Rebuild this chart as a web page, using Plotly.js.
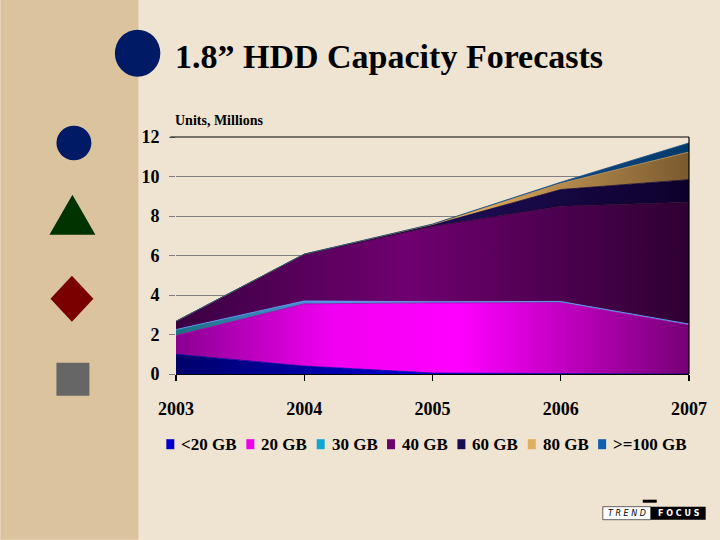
<!DOCTYPE html>
<html>
<head>
<meta charset="utf-8">
<script src="https://cdn.plot.ly/plotly-3.0.1.min.js"></script>
<style>
html,body{margin:0;padding:0;background:#EFE3D1;}
#chart{width:720px;height:540px;}
</style>
</head>
<body>
<div id="chart"></div>
<script>
// ---- data ----
const years = [2003, 2004, 2005, 2006, 2007];
const seriesNames = ['<20 GB', '20 GB', '30 GB', '40 GB', '60 GB', '80 GB', '>=100 GB'];
const lt20GB  = [1.00, 0.40, 0.05, 0.02, 0.00];
const gb20    = [0.95, 3.15, 3.55, 3.60, 2.50];
const gb30    = [0.30, 0.15, 0.06, 0.05, 0.03];
const gb40    = [0.40, 2.35, 3.82, 4.83, 6.16];
const gb60    = [0.02, 0.02, 0.06, 0.84, 1.15];
const gb80    = [0.00, 0.00, 0.04, 0.31, 1.40];
const gb100   = [0.00, 0.00, 0.01, 0.06, 0.46];
const yTicks  = [0, 2, 4, 6, 8, 10, 12];

const seriesValues = [lt20GB, gb20, gb30, gb40, gb60, gb80, gb100];

// ---- styles ----
const gradients = [
  [[0,'#00006a'],[0.45,'#0000d0'],[1,'#0000ff']],
  [[0,'#8a0090'],[0.3,'#f000f0'],[0.55,'#ff00ff'],[1,'#760076']],
  [[0,'#1a7080'],[0.3,'#4f95e6'],[1,'#6a8ce0']],
  [[0,'#3a0042'],[0.45,'#700070'],[1,'#2e0032']],
  [[0,'#24146a'],[0.6,'#1a0c4e'],[1,'#0e002c']],
  [[0,'#f0c888'],[0.6,'#d8a860'],[1,'#7a5a2e']],
  [[0,'#2a6aaa'],[0.6,'#1a5090'],[1,'#003a6a']]
];
const lineColors = ['#0000a0','#a000a0','#5aa0ff','#2a0030','#100030','#c09050','#104a80'];
const legendColors = ['#0000cc','#ee00ee','#10a8d0','#6a006a','#1a0c50','#e0b060','#1060b0'];

const W = 720, H = 540;
const mL = 175.7, mR = 30.7, mT = 137.3, mB = 165.7;
const pw = W - mL - mR, ph = H - mT - mB;
const px = x => (x - mL) / pw;
const py = y => (H - mB - y) / ph;

const traces = seriesValues.map((vals, i) => ({
  type: 'scatter',
  mode: 'lines',
  x: years,
  y: vals,
  name: seriesNames[i],
  stackgroup: 'one',
  line: {width: 0.8, color: lineColors[i], shape: 'linear'},
  fillgradient: {type: 'horizontal', start: 2003, stop: 2007, colorscale: gradients[i]},
  showlegend: false,
  hoverinfo: 'skip'
}));

const shapes = [];
const annotations = [];

// sidebar
shapes.push({type:'rect', xref:'paper', yref:'paper', x0:px(0), x1:px(138), y0:py(540), y1:py(0),
  fillcolor:'#DBC39D', line:{width:0}, layer:'below'});
// title bullet
shapes.push({type:'circle', xref:'paper', yref:'paper', x0:px(114.5), x1:px(160), y0:py(77), y1:py(30),
  fillcolor:'#001A66', line:{width:0}});
// sidebar symbols
shapes.push({type:'circle', xref:'paper', yref:'paper', x0:px(56), x1:px(91), y0:py(160.5), y1:py(126),
  fillcolor:'#001A66', line:{width:0}});
shapes.push({type:'path', xref:'paper', yref:'paper',
  path:`M ${px(49)} ${py(235)} L ${px(95)} ${py(235)} L ${px(72)} ${py(195)} Z`,
  fillcolor:'#003300', line:{width:0}});
shapes.push({type:'path', xref:'paper', yref:'paper',
  path:`M ${px(50)} ${py(299)} L ${px(71.5)} ${py(276)} L ${px(93)} ${py(299)} L ${px(71.5)} ${py(322)} Z`,
  fillcolor:'#7A0000', line:{width:0}});
shapes.push({type:'rect', xref:'paper', yref:'paper', x0:px(56), x1:px(89), y0:py(396), y1:py(363),
  fillcolor:'#666666', line:{width:0}});

// plot frame: top and right borders
shapes.push({type:'line', xref:'paper', yref:'paper', x0:px(170), x1:1, y0:1, y1:1, line:{color:'#000000', width:1.2}});
shapes.push({type:'line', xref:'paper', yref:'paper', x0:1, x1:1, y0:0, y1:1, line:{color:'#000000', width:1.2}});

// title
annotations.push({xref:'paper', yref:'paper', x:px(173), y:py(57), xanchor:'left', yanchor:'middle',
  text:'1.8\u201D HDD Capacity Forecasts', showarrow:false,
  font:{family:'Liberation Serif, Times New Roman, serif', size:34, color:'#000000', weight:'bold'}});
// units label
annotations.push({xref:'paper', yref:'paper', x:px(173), y:py(121), xanchor:'left', yanchor:'middle',
  text:'<b>Units, Millions</b>', showarrow:false,
  font:{family:'Liberation Serif, Times New Roman, serif', size:14, color:'#000000'}});

// custom legend
const legFont = 'bold 17px "Liberation Serif"';
const cv = document.createElement('canvas').getContext('2d');
cv.font = legFont;
const widths = seriesNames.map(n => cv.measureText(n).width);
const mk = 8, gapIn = 7;
const startX = 166, endX = 687;
const used = widths.reduce((a,b)=>a+b,0) + seriesNames.length*(mk+gapIn);
const gapOut = (endX - startX - used) / (seriesNames.length - 1);
let cx = startX;
const legY = 444.5;
seriesNames.forEach((n, i) => {
  shapes.push({type:'rect', xref:'paper', yref:'paper', x0:px(cx), x1:px(cx+mk), y0:py(legY+5), y1:py(legY-5),
    fillcolor:legendColors[i], line:{width:0}});
  annotations.push({xref:'paper', yref:'paper', x:px(cx+mk+gapIn-2), y:py(legY), xanchor:'left', yanchor:'middle',
    text:'<b>'+n.replace('<','&lt;').replace('>','&gt;')+'</b>', showarrow:false,
    font:{family:'Liberation Serif, Times New Roman, serif', size:17, color:'#000000'}});
  cx += mk + gapIn + widths[i] + gapOut;
});

// TREND FOCUS logo
shapes.push({type:'rect', xref:'paper', yref:'paper', x0:px(603), x1:px(651), y0:py(520), y1:py(507),
  fillcolor:'#FFFFFF', line:{color:'#000000', width:0.6}});
shapes.push({type:'rect', xref:'paper', yref:'paper', x0:px(651), x1:px(706), y0:py(520), y1:py(507),
  fillcolor:'#000000', line:{width:0}});
shapes.push({type:'rect', xref:'paper', yref:'paper', x0:px(643), x1:px(657), y0:py(503), y1:py(500),
  fillcolor:'#000000', line:{width:0}});
annotations.push({xref:'paper', yref:'paper', x:px(627), y:py(514), xanchor:'center', yanchor:'middle',
  text:'<i>T R E N D</i>', showarrow:false,
  font:{family:'DejaVu Sans, sans-serif', size:8, color:'#000000'}});
annotations.push({xref:'paper', yref:'paper', x:px(679), y:py(514), xanchor:'center', yanchor:'middle',
  text:'<b>F O C U S</b>', showarrow:false,
  font:{family:'DejaVu Sans, sans-serif', size:8, color:'#FFFFFF'}});

const layout = {
  width: W, height: H,
  margin: {l: mL, r: mR, t: mT, b: mB, pad: 0},
  paper_bgcolor: '#EFE3D1',
  plot_bgcolor: 'rgba(0,0,0,0)',
  showlegend: false,
  xaxis: {
    type: 'linear', range: [2003, 2007], tickvals: years, ticktext: years.map(String),
    showgrid: false, zeroline: false, showline: true, linecolor: '#000000', linewidth: 1.2,
    ticks: 'outside', ticklen: 6, tickcolor: '#000000', tickwidth: 1.2,
    ticklabelstandoff: 12,
    tickfont: {family: 'Liberation Serif, Times New Roman, serif', size: 18, color: '#000000', weight: 'bold'},
    fixedrange: true
  },
  yaxis: {
    range: [0, 12], tickvals: yTicks, ticktext: yTicks.map(String),
    showgrid: true, gridcolor: '#808080', gridwidth: 1, zeroline: false, showline: false,
    ticks: 'outside', ticklen: 6, tickcolor: '#808080', tickwidth: 1,
    ticklabelstandoff: 6,
    tickfont: {family: 'Liberation Serif, Times New Roman, serif', size: 18, color: '#000000', weight: 'bold'},
    fixedrange: true
  },
  shapes: shapes,
  annotations: annotations
};

Plotly.newPlot('chart', traces, layout, {displayModeBar: false, staticPlot: true});
</script>
</body>
</html>
